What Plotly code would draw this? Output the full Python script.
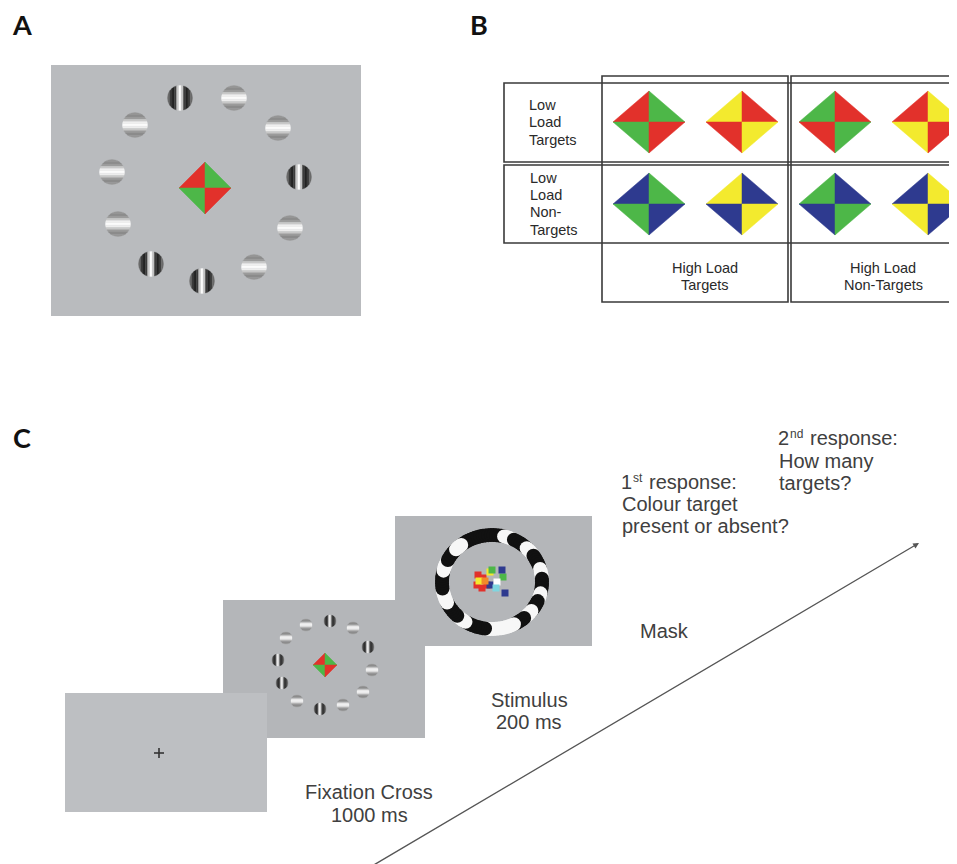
import numpy as np
import plotly.graph_objects as go

W, H = 957, 864
PAGE_OFF = 8  # browser body margin

# ---------------- data ----------------
RED, GREEN, YELLOW, BLUE = "#e2312b", "#4db748", "#f3ea2e", "#2e3a8f"

panel_letters = ["A", "B", "C"]
panel_letter_x = [22, 479, 22]
panel_letter_y = [24, 24, 437]

# Panel A gratings (centre x, centre y, orientation)
gratA_x = [180, 234, 135, 278, 112, 299, 118, 290, 151, 254, 202]
gratA_y = [98, 98, 125, 128, 172, 177, 224, 228, 264, 267, 281]
gratA_o = ["v", "h", "h", "h", "h", "v", "h", "h", "v", "h", "v"]

# Stimulus-screen gratings (panel C)
gratS_x = [330, 306, 353, 286, 368, 278, 372, 282, 363, 297, 343, 320]
gratS_y = [621, 625, 628, 638, 647, 660, 670, 683, 692, 701, 705, 709]
gratS_o = ["v", "h", "h", "h", "v", "v", "h", "v", "h", "h", "h", "v"]

# grey levels of the grating bands (across the patch)
grating_v_levels = [105, 60, 35, 60, 200, 252, 200, 60, 35, 60, 105]
grating_h_levels = [150, 140, 155, 200, 240, 252, 240, 200, 155, 140, 150]

# Diamond quadrant colours: top-left, top-right, bottom-left, bottom-right
diamondA_colors = [RED, GREEN, GREEN, RED]
diamondB_colors = [
    [RED, GREEN, GREEN, RED], [YELLOW, RED, RED, YELLOW],
    [GREEN, RED, RED, GREEN], [RED, YELLOW, YELLOW, RED],
    [BLUE, GREEN, GREEN, BLUE], [YELLOW, BLUE, BLUE, YELLOW],
    [GREEN, BLUE, BLUE, GREEN], [BLUE, YELLOW, YELLOW, BLUE],
]
diamondB_x = [649, 742, 835, 928]
diamondB_y = [122, 204]

# Mask ring segments: start angle, end angle (deg, clockwise from top), colour
ring_start = [-38, 14, 26, 44, 56, 74, 86, 104, 114, 128, 140, 154, 188, 212, 224, 244, 262, 284, 298, 314]
ring_end = [14, 26, 44, 56, 74, 86, 104, 114, 128, 140, 154, 188, 212, 224, 244, 262, 284, 298, 314, 322]
ring_col = ["k", "w", "k", "w", "k", "w", "k", "w", "k", "w", "k", "w", "k", "w", "k", "w", "k", "w", "k", "w"]

# Coloured squares in the mask centre (offsets from centre)
mask_sq_dx = [-14, -9, -15, -10, -5, -13, -2, 0, 11, 10, 13, -2, 5, 4, -7]
mask_sq_dy = [-7, -4, 3, 6, 3, -1, -10, -12, -5, -12, 11, 3, 0, 6, -1]
mask_sq_c = [RED, RED, RED, RED, RED, YELLOW, YELLOW, GREEN, GREEN, BLUE, BLUE, BLUE,
             "#ffffff", "#7fd6e0", "#f08a2a"]

# Text
B_low_t = ["Low", "Load", "Targets"]
B_low_t_y = [105, 122, 140]
B_low_n = ["Low", "Load", "Non-", "Targets"]
B_low_n_y = [178, 195, 212, 230]
B_high_t = ["High Load", "Targets"]
B_high_n = ["High Load", "Non-Targets"]
B_high_y = [268, 285]

fix_lines = ["Fixation Cross", "1000 ms"]
fix_y = [792, 815]
stim_lines = ["Stimulus", "200 ms"]
stim_y = [700, 722]
mask_lines = ["Mask"]
mask_y = [631]
resp1_first = ["1", "st", "response:"]
resp1_lines = ["Colour target", "present or absent?"]
resp1_y = [482, 504, 526]
resp2_first = ["2", "nd", "response:"]
resp2_lines = ["How many", "targets?"]
resp2_y = [438, 461, 483]

# ---------------- helpers ----------------
shapes = []


def path(xs, ys):
    pts = [f"{x:.2f},{y:.2f}" for x, y in zip(xs, ys)]
    return "M " + " L ".join(pts) + " Z"


def poly(xs, ys, fill, line_color=None, lw=0):
    shapes.append(dict(type="path", xref="x", yref="y", path=path(xs, ys),
                       fillcolor=fill, line=dict(color=line_color or fill, width=lw),
                       layer="above"))


def rect(x0, y0, x1, y1, fill=None, line_color=None, lw=0):
    d = dict(type="rect", xref="x", yref="y", x0=x0, y0=y0, x1=x1, y1=y1,
             line=dict(color=line_color if line_color else "rgba(0,0,0,0)", width=lw),
             layer="above")
    d["fillcolor"] = fill if fill else "rgba(0,0,0,0)"
    shapes.append(d)


def circle(cx, cy, rx, ry, fill):
    shapes.append(dict(type="circle", xref="x", yref="y", x0=cx - rx, x1=cx + rx,
                       y0=cy - ry, y1=cy + ry, fillcolor=fill,
                       line=dict(color=fill, width=0), layer="above"))


def diamond(cx, cy, w, h, cols):
    tl, tr, bl, br = cols
    poly([cx - w, cx, cx], [cy, cy - h, cy], tl, lw=0.5)
    poly([cx, cx + w, cx], [cy - h, cy, cy], tr, lw=0.5)
    poly([cx - w, cx, cx], [cy, cy + h, cy], bl, lw=0.5)
    poly([cx + w, cx, cx], [cy, cy + h, cy], br, lw=0.5)


def grating(cx, cy, rx, ry, orient):
    levels = grating_v_levels if orient == "v" else grating_h_levels
    nb = len(levels)
    edges = np.linspace(-1, 1, nb + 1)
    for i in range(nb):
        u = np.linspace(edges[i], edges[i + 1], 6)
        v = np.sqrt(np.maximum(1 - u * u, 0))
        pu = np.concatenate([u, u[::-1]])
        pv = np.concatenate([-v, v[::-1]])
        if orient == "v":
            xs, ys = cx + rx * pu, cy + ry * pv
        else:
            xs, ys = cx + rx * pv, cy + ry * pu
        g = levels[i]
        c = f"rgb({g},{g},{g})"
        poly(xs, ys, c, lw=0.3)


def ring_blobs(cx, cy, rx, ry, a0, a1, col, blob_r):
    n = max(2, int(round((a1 - a0) / 3.0)) + 1)
    for t in np.radians(np.linspace(a0, a1, n)):
        circle(cx + rx * np.sin(t), cy - ry * np.cos(t), blob_r, blob_r, col)


# ---------------- Panel A ----------------
rect(51, 65, 361, 316, fill="#b9bbbe")
for x, y, o in zip(gratA_x, gratA_y, gratA_o):
    grating(x, y, 12.5, 12.5, o)
diamond(205, 188, 26, 26, diamondA_colors)

# ---------------- Panel B ----------------
LC = "#3a3a3a"
for k, cols in enumerate(diamondB_colors):
    diamond(diamondB_x[k % 4], diamondB_y[k // 4], 36, 31, cols)
rect(504, 83, 962, 162, line_color=LC, lw=1.6)
rect(504, 165, 962, 243, line_color=LC, lw=1.6)
rect(602, 76, 788, 302, line_color=LC, lw=1.6)
rect(791, 76, 962, 302, line_color=LC, lw=1.6)

# ---------------- Panel C ----------------
# mask screen
rect(395, 516, 592, 646, fill="#b4b6b9")
mcx, mcy = 492, 582
for a0, a1, c in zip(ring_start, ring_end, ring_col):
    ring_blobs(mcx, mcy, 50, 47, a0, a1, "#111111" if c == "k" else "#f7f7f7", 7)
for dx, dy, c in zip(mask_sq_dx, mask_sq_dy, mask_sq_c):
    rect(mcx + dx - 3.5, mcy + dy - 3.5, mcx + dx + 3.5, mcy + dy + 3.5, fill=c)

# stimulus screen
rect(223, 600, 425, 738, fill="#b4b6b9")
for x, y, o in zip(gratS_x, gratS_y, gratS_o):
    grating(x, y, 6, 6, o)
diamond(325, 665, 12, 12, diamondA_colors)

# fixation screen
rect(65, 693, 267, 812, fill="#bdbfc2")
shapes.append(dict(type="line", xref="x", yref="y", x0=154, y0=753, x1=164, y1=753,
                   line=dict(color="#333333", width=1.6), layer="above"))
shapes.append(dict(type="line", xref="x", yref="y", x0=159, y0=748, x1=159, y1=758,
                   line=dict(color="#333333", width=1.6), layer="above"))

# ---------------- annotations ----------------
ann = []
TXT = "#404040"
FONT = "Arial, Liberation Sans, sans-serif"

for L, x, y in zip(panel_letters, panel_letter_x, panel_letter_y):
    ann.append(dict(x=x, y=y, xref="x", yref="y", text=f"<b>{L}</b>", showarrow=False,
                    font=dict(family="Lato, DejaVu Sans, sans-serif", size=27, color="#111111", weight=900),
                    xanchor="center", yanchor="middle"))


def add_text(t, x, y, anchor, size, color):
    ann.append(dict(x=x, y=y, xref="x", yref="y", text=t, showarrow=False,
                    font=dict(family=FONT, size=size, color=color),
                    xanchor=anchor, yanchor="middle", align=anchor))


def add_lines(lines, ys, x, anchor, size, color):
    for t, y in zip(lines, ys):
        add_text(t, x, y, anchor, size, color)


BT = "#2a2a2a"
add_lines(B_low_t, B_low_t_y, 527, "left", 14.5, BT)
add_lines(B_low_n, B_low_n_y, 528, "left", 14.5, BT)
add_lines(B_high_t, B_high_y, 705, "center", 14.5, BT)
add_lines(B_high_n, B_high_y, 883, "center", 14.5, BT)

add_lines(fix_lines, fix_y, 369, "center", 20, TXT)
add_lines(stim_lines, stim_y, 529, "center", 20, TXT)
add_lines(mask_lines, mask_y, 664, "center", 20, TXT)

# first lines with ordinal superscripts
add_text(resp1_first[0], 619, resp1_y[0], "left", 20, TXT)
add_text(resp1_first[1], 631, resp1_y[0] - 4, "left", 12, TXT)
add_text(resp1_first[2], 647, resp1_y[0], "left", 20, TXT)
add_lines(resp1_lines, resp1_y[1:], 620, "left", 20, TXT)

add_text(resp2_first[0], 776, resp2_y[0], "left", 20, TXT)
add_text(resp2_first[1], 788, resp2_y[0] - 4, "left", 12, TXT)
add_text(resp2_first[2], 808, resp2_y[0], "left", 20, TXT)
add_lines(resp2_lines, resp2_y[1:], 777, "left", 20, TXT)

# time arrow
ann.append(dict(x=919, y=543, ax=372, ay=866, xref="x", yref="y", axref="x", ayref="y",
                text="", showarrow=True, arrowhead=2, arrowsize=0.9, arrowwidth=1.3,
                arrowcolor="#555555", standoff=0))

fig = go.Figure()
fig.add_trace(go.Scatter(x=[PAGE_OFF, W], y=[PAGE_OFF, H], mode="markers", marker=dict(opacity=0),
                         hoverinfo="skip", showlegend=False))
fig.update_layout(
    width=W, height=H, margin=dict(l=0, r=0, t=0, b=0),
    paper_bgcolor="white", plot_bgcolor="white",
    xaxis=dict(range=[PAGE_OFF, W + PAGE_OFF], visible=False, fixedrange=True),
    yaxis=dict(range=[H + PAGE_OFF, PAGE_OFF], visible=False, fixedrange=True),
    shapes=shapes, annotations=ann, showlegend=False,
)
fig.write_html("out.html")
